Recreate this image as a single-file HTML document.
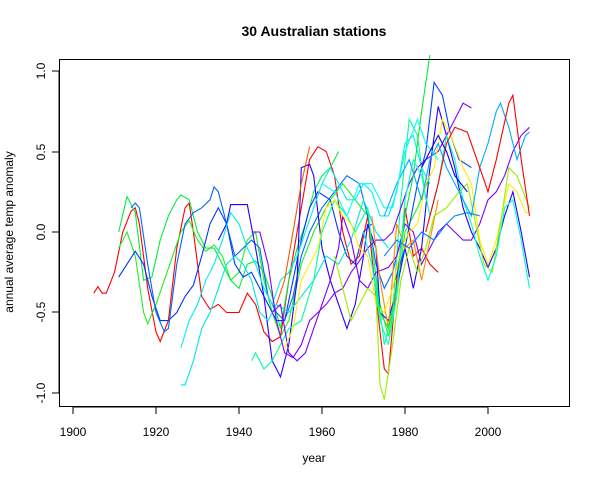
<!DOCTYPE html>
<html><head><meta charset="utf-8"><style>
html,body{margin:0;padding:0;background:#fff;}
svg{display:block;font-family:"Liberation Sans",Arial,sans-serif;}
</style></head><body>
<svg id="s" width="600" height="480" xmlns="http://www.w3.org/2000/svg">
<rect width="600" height="480" fill="#fff"/>
<text x="314" y="36" font-size="14" font-weight="bold" text-anchor="middle">30 Australian stations</text>
<text x="314" y="462" font-size="12" text-anchor="middle">year</text>
<text transform="translate(13,232) rotate(-90)" font-size="12" text-anchor="middle">annual average temp anomaly</text>
<g id="series" fill="none" stroke-width="1.1"></g>
<rect x="59.5" y="59.5" width="510" height="347" fill="none" stroke="#000"/>
<g stroke="#000">
<line x1="73" y1="407" x2="488" y2="407"/>
<line x1="73" y1="407" x2="73" y2="414"/><line x1="156" y1="407" x2="156" y2="414"/>
<line x1="239" y1="407" x2="239" y2="414"/><line x1="322" y1="407" x2="322" y2="414"/>
<line x1="405" y1="407" x2="405" y2="414"/><line x1="488" y1="407" x2="488" y2="414"/>
<line x1="59" y1="71" x2="59" y2="393"/>
<line x1="52" y1="71" x2="59" y2="71"/><line x1="52" y1="152" x2="59" y2="152"/>
<line x1="52" y1="232" x2="59" y2="232"/><line x1="52" y1="312" x2="59" y2="312"/>
<line x1="52" y1="393" x2="59" y2="393"/>
</g>
<g font-size="12" text-anchor="middle">
<text x="73" y="436">1900</text><text x="156" y="436">1920</text><text x="239" y="436">1940</text>
<text x="322" y="436">1960</text><text x="405" y="436">1980</text><text x="488" y="436">2000</text>
<text transform="translate(45,71) rotate(-90)">1.0</text>
<text transform="translate(45,152) rotate(-90)">0.5</text>
<text transform="translate(45,232) rotate(-90)">0.0</text>
<text transform="translate(45,312) rotate(-90)">-0.5</text>
<text transform="translate(45,393) rotate(-90)">-1.0</text>
</g>
</svg>
<script>
var S=[
["#ff0000",[1905,-0.38,1906,-0.34,1907,-0.38,1908,-0.38,1910,-0.25,1912,0.0,1914,0.13,1915,0.15,1916,0.05,1918,-0.35,1920,-0.62,1921,-0.68,1923,-0.55,1925,-0.1,1927,0.15,1928,0.18,1929,0.0,1931,-0.4,1933,-0.48,1935,-0.45,1937,-0.5,1940,-0.5,1942,-0.38,1944,-0.45,1946,-0.62,1948,-0.68,1950,-0.65,1952,-0.3,1954,0.0,1957,0.45,1959,0.53,1961,0.5,1963,0.35,1965,0.0,1967,-0.2,1969,-0.15,1971,0.1,1973,-0.4,1975,-0.85,1976,-0.88,1978,-0.3,1980,0.15,1982,-0.15,1984,-0.1,1986,-0.2,1988,-0.25]],
["#00ee44",[1911,0.0,1913,0.22,1915,0.12,1917,-0.3,1919,-0.28,1921,-0.05,1923,0.1,1925,0.2,1926,0.23,1928,0.2,1930,0.0,1932,-0.1,1934,-0.1,1936,-0.2,1938,-0.3,1940,-0.35,1942,-0.2,1944,-0.18,1946,-0.25,1948,-0.4,1950,-0.6,1952,-0.3,1954,-0.1,1956,0.05,1958,0.25,1960,0.35,1962,0.4,1964,0.5]],
["#22ee22",[1911,-0.1,1913,0.0,1915,-0.15,1917,-0.5,1918,-0.57,1920,-0.45,1922,-0.3,1924,-0.15,1926,0.0,1928,0.07,1930,-0.05,1932,-0.12,1934,-0.08,1936,-0.15,1938,-0.3,1940,-0.25,1942,-0.05,1944,0.0,1946,-0.3,1948,-0.5,1950,-0.65,1952,-0.55,1955,-0.2,1958,0.0,1962,0.2,1965,0.3,1968,0.2,1971,0.1,1974,-0.45,1976,-0.65,1978,-0.4,1980,0.0,1983,0.15,1986,0.35]],
["#0033ff",[1911,-0.28,1913,-0.2,1915,-0.12,1917,-0.2,1919,-0.4,1921,-0.55,1923,-0.55,1925,-0.5,1927,-0.4,1929,-0.33,1931,-0.15,1933,0.05,1935,0.15,1937,0.05,1939,-0.2,1941,-0.28,1943,-0.25,1945,-0.35,1947,-0.45,1949,-0.55,1951,-0.55,1953,-0.3,1955,-0.05,1957,0.15,1959,0.25,1962,0.2,1964,0.0,1966,-0.15,1968,-0.2,1970,0.0,1972,0.05]],
["#0066ff",[1914,0.15,1915,0.18,1916,0.15,1918,-0.2,1920,-0.5,1922,-0.62,1923,-0.6,1925,-0.2,1927,0.05,1929,0.12,1931,0.15,1933,0.2,1934,0.28,1935,0.25,1937,0.05,1939,-0.15,1941,-0.1,1943,-0.05,1945,-0.1,1947,-0.4,1949,-0.5,1951,-0.55,1953,-0.4,1955,-0.15,1957,0.0,1960,0.15,1963,0.25,1966,0.35,1969,0.3,1971,0.1,1973,-0.2,1975,-0.35,1977,-0.25,1980,0.05]],
["#2200ff",[1935,-0.05,1937,0.05,1938,0.17,1940,0.17,1942,0.17,1944,-0.1,1946,-0.4,1948,-0.8,1950,-0.9,1952,-0.7,1954,-0.3,1955,0.4,1957,0.42,1958,0.35,1960,-0.1,1962,-0.3,1964,-0.45,1966,-0.6,1968,-0.45,1970,-0.15,1971,0.05,1973,-0.1,1974,-0.5,1976,-0.55,1978,-0.35,1980,-0.1,1982,-0.35,1984,-0.1,1986,0.4,1988,0.78,1990,0.6,1992,0.4,1994,0.15,1996,0.0,1998,-0.1,2000,-0.22,2002,-0.1,2004,0.1,2006,0.25,2008,0.0,2010,-0.28]],
["#0044ff",[1977,-0.35,1980,-0.1,1983,0.3,1985,0.5,1987,0.93,1989,0.85,1991,0.6,1993,0.45,1996,0.4]],
["#00eeee",[1926,-0.72,1928,-0.55,1930,-0.45,1932,-0.3,1934,-0.2,1936,-0.05,1938,0.12,1940,0.05,1942,-0.1,1944,-0.2,1946,-0.35,1948,-0.45,1950,-0.3,1952,-0.25,1954,-0.15,1956,0.0,1958,0.15,1960,0.3,1962,0.4,1964,0.3,1966,0.2,1968,0.2,1970,0.3,1972,0.25,1974,0.1,1976,0.1,1978,0.25,1980,0.55,1982,0.6,1984,0.4,1986,0.3]],
["#00e5e5",[1926,-0.95,1927,-0.95,1929,-0.8,1931,-0.6,1933,-0.5,1935,-0.35,1937,-0.2,1939,-0.15,1941,-0.2,1943,-0.3,1945,-0.5,1947,-0.55,1949,-0.45,1952,-0.5,1955,-0.4,1958,-0.3,1961,-0.15,1964,-0.2,1967,-0.05,1970,0.2,1973,0.0,1976,-0.1]],
["#00ff99",[1943,-0.8,1944,-0.75,1946,-0.85,1948,-0.8,1950,-0.7,1952,-0.6,1955,-0.55,1958,-0.3,1960,0.0,1963,0.2,1966,0.1,1968,0.0,1971,0.15,1973,-0.3,1975,-0.7,1977,-0.5,1979,0.2,1981,0.7,1983,0.6,1985,0.2]],
["#8000ff",[1943,0.0,1945,0.0,1947,-0.2,1949,-0.55,1951,-0.75,1953,-0.78,1955,-0.7,1957,-0.55,1959,-0.5,1961,-0.45,1963,-0.38,1965,-0.35,1967,-0.25,1969,-0.18,1971,-0.1,1973,-0.05,1975,-0.05,1977,0.0,1979,0.15,1981,0.3,1983,0.4,1985,0.45,1988,0.5,1990,0.6,1993,0.75,1994,0.8,1996,0.77]],
["#7a00ff",[1948,-0.5,1950,-0.45,1952,-0.75,1954,-0.8,1956,-0.75,1958,-0.6,1960,-0.45,1962,-0.3,1964,-0.1,1965,0.1,1967,-0.05,1969,-0.3,1971,-0.35,1973,-0.25,1976,-0.22,1978,-0.15,1980,0.05,1982,0.0,1984,-0.2,1986,-0.1,1988,0.0,1990,0.05,1992,0.0,1994,-0.05,1996,-0.05,1998,0.05,2000,0.2,2002,0.25,2004,0.35,2006,0.5,2008,0.6,2010,0.65]],
["#ff5500",[1949,-0.45,1951,-0.3,1953,0.0,1955,0.3,1957,0.53]],
["#ff8800",[1972,0.1,1974,-0.3,1976,-0.6,1978,0.05,1980,-0.1,1982,-0.05,1984,-0.3,1986,-0.05,1988,0.2]],
["#ffee00",[1951,-0.72,1953,-0.6,1955,-0.3,1957,-0.2,1959,-0.1,1961,0.15,1963,0.2,1965,0.1,1967,0.05,1969,-0.1,1971,-0.15,1973,-0.45,1975,-0.5,1977,-0.35,1979,-0.1,1981,0.0,1983,0.05,1985,0.3,1987,0.4,1989,0.7,1991,0.6,1994,0.4,1996,0.3,1998,-0.05,2000,-0.2,2002,-0.05,2005,0.3,2007,0.25,2009,0.12,2010,0.12]],
["#99ee00",[1963,-0.15,1965,-0.35,1967,-0.55,1969,-0.45,1971,-0.35,1973,-0.4,1974,-0.95,1975,-1.04,1977,-0.7,1979,-0.3,1981,-0.1,1983,-0.25,1985,-0.1,1987,0.1,1990,0.15,1993,0.25,1995,0.3,1997,0.05,1999,-0.2,2001,-0.25,2003,0.05,2005,0.4,2007,0.35,2010,0.15]],
["#00ee33",[1972,-0.2,1974,-0.5,1976,-0.6,1978,-0.35,1980,0.1,1982,0.35,1984,0.75,1986,1.1]],
["#00ffcc",[1970,0.0,1972,-0.2,1974,-0.55,1976,-0.7,1978,-0.4,1980,0.2,1982,0.45,1984,0.35,1986,0.1,1988,0.3,1990,0.6,1992,0.45,1994,0.2,1996,0.05,1998,-0.15,2000,-0.3,2002,-0.15,2004,0.15,2006,0.2,2008,-0.05,2010,-0.35]],
["#00aaff",[1975,0.1,1978,0.3,1981,0.45,1984,0.2,1986,0.45,1988,0.55,1990,0.4,1993,0.25,1996,0.1,1998,0.4,2000,0.55,2002,0.75,2003,0.8,2005,0.65,2007,0.45,2009,0.6,2010,0.62]],
["#0080ff",[1975,-0.15,1978,-0.05,1981,-0.1,1984,0.0,1987,-0.05,1990,0.05,1992,0.1,1995,0.12,1998,0.1]],
["#ff0000",[1985,0.0,1988,0.3,1990,0.55,1992,0.65,1995,0.62,1998,0.4,2000,0.25,2002,0.45,2005,0.8,2006,0.85,2008,0.45,2010,0.1]],
["#00ffff",[1960,0.3,1963,0.25,1966,0.1,1969,0.3,1972,0.3,1975,0.15,1977,0.15,1980,0.5,1983,0.7,1985,0.55,1988,0.45]],
["#0000ff",[1984,0.4,1986,0.5,1988,0.6,1990,0.5,1992,0.35,1995,0.25]]
];
var g=document.getElementById("series"),h="";
S.forEach(function(s){var p=[],d=s[1];for(var i=0;i<d.length;i+=2){p.push((73+(d[i]-1900)*4.15).toFixed(1)+","+(232-d[i+1]*161).toFixed(1));}
h+='<polyline stroke="'+s[0]+'" points="'+p.join(" ")+'"/>';});
g.innerHTML=h;
</script>
</body></html>
